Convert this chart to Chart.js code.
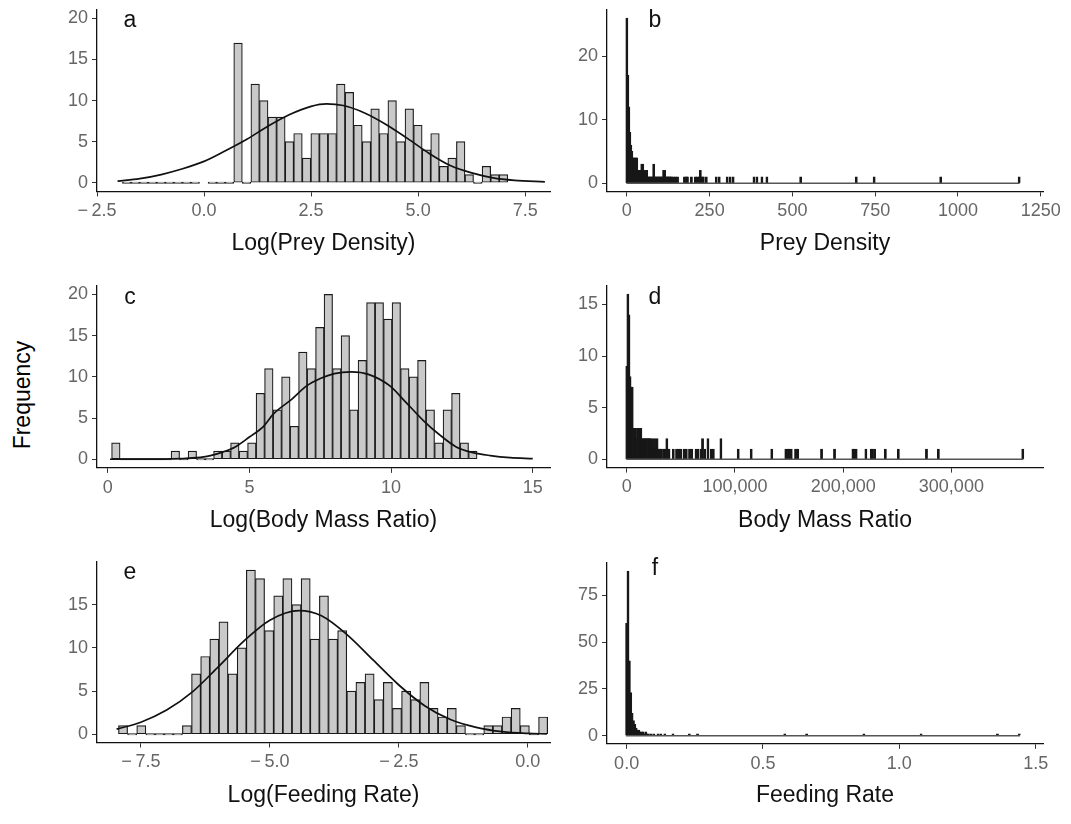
<!DOCTYPE html>
<html><head><meta charset="utf-8">
<script src="https://cdn.jsdelivr.net/npm/chart.js@4/dist/chart.umd.min.js"></script>
<style>
body{margin:0;background:#fff;width:1071px;height:824px;position:relative;overflow:hidden;font-family:"Liberation Sans",Arial,sans-serif}
canvas{position:absolute}
#ylab{position:absolute;left:22px;top:395px;transform:translate(-50%,-50%) rotate(-90deg);font-size:23px;color:#000;white-space:nowrap}
</style></head><body>
<div id="ylab">Frequency</div>
<canvas id="ca"></canvas><canvas id="cb"></canvas>
<canvas id="cc"></canvas><canvas id="cd"></canvas>
<canvas id="ce"></canvas><canvas id="cf"></canvas>
<script>
// ---------- DATA ----------
// a: Log(Prey Density) histogram (bin width 0.2), bins start at aStart
const aStart = -1.906, aWidth = 0.2;
const aCounts = [0,0,0,0,0,0,0,0,0,null,0,0,0,17,0,12,10,8,8,5,6,3,6,6,6,12,11,7,5,9,6,10,5,9,7,4,6,2,3,5,1,0,2,1,1];
const aCurveX = [-2.02,-1.5,-1,-0.5,0,0.5,1,1.5,2,2.5,2.86,3.25,3.75,4.25,4.75,5.25,5.75,6.25,6.75,7.25,7.96];
const aCurveY = [0.2,0.5,1.0,1.7,2.6,3.9,5.3,6.9,8.3,9.3,9.6,9.4,8.5,7.1,5.4,3.6,2.1,1.2,0.6,0.3,0.1];
const aXTicks = [-2.5,0,2.5,5,7.5];
const aYTicks = [0,5,10,15,20];

// b: Prey Density histogram (bin width 3), bin centres
const bWidth = 3;
const bCentres = [0,3,6,9,12,15,18,21,24,27,30,33,36,39,42,45,48,51,54,57,60,63,66,69,72,75,78,81,84,87,90,93,96,99,102,105,108,111,114,117,120,123,126,129,132,135,141,147,153,174,180,183,195,207,213,219,222,228,231,240,270,279,303,312,321,384,393,408,423,525,693,747,948,1185];
const bCounts  = [26,17,12,8,6,5,4,4,4,4,4,2,2,1,2,3,3,2,2,1,2,1,1,1,1,1,1,3,1,1,1,1,1,1,1,1,1,2,2,1,1,1,1,1,1,1,1,1,1,1,1,1,1,1,1,1,2,1,1,1,1,1,1,1,1,1,1,1,1,1,1,1,1,1];
const bXTicks = [0,250,500,750,1000,1250];
const bYTicks = [0,10,20];

// c: Log(Body Mass Ratio) histogram (bin width 0.3)
const cStart = 0.135, cWidth = 0.3;
const cCounts = [2,0,0,0,0,0,0,1,0,1,0,0,1,1,2,1,2,8,11,6,10,4,13,11,16,20,11,15,6,12,19,19,17,19,11,10,12,6,2,6,8,2,1];
const cCurveX = [0.08,2.26,3.5,4.08,4.5,5.0,5.5,5.85,6.5,7.02,7.5,8.0,8.6,9.2,9.96,10.5,11.14,11.7,12.3,12.9,13.5,14.2,15.0];
const cCurveY = [0.0,0.05,0.35,0.9,1.5,2.7,4.0,5.5,7.3,8.9,9.8,10.4,10.6,10.3,8.9,7.0,4.7,3.0,1.5,0.8,0.45,0.2,0.08];
const cXTicks = [0,5,10,15];
const cYTicks = [0,5,10,15,20];

// d: Body Mass Ratio histogram (bin width 1000), bin centres
const dWidth = 1000;
const dCentres = [0,1000,2000,3000,4000,5000,6000,7000,8000,9000,10000,11000,12000,13000,14000,15000,16000,17000,18000,19000,20000,21000,22000,23000,24000,25000,26000,27000,28000,29000,30000,31000,32000,34000,35000,37000,39000,43000,46000,48000,50000,53000,55000,58000,60000,64000,66000,69000,70000,72000,75000,78000,80000,87000,103000,115000,134000,147000,149000,150000,152000,156000,158000,180000,192000,209000,210000,212000,221000,226000,227000,229000,239000,251000,277000,288000,366000];
const dCounts  = [9,16,14,8,7,7,3,3,3,2,3,2,3,3,2,2,2,2,2,2,2,2,2,1,2,1,2,1,2,1,1,1,1,1,1,2,1,1,1,1,1,1,1,1,1,1,1,1,2,1,2,1,1,2,1,1,1,1,1,1,1,1,1,1,1,1,1,1,1,1,1,1,1,1,1,1,1];
const dXTicks = [0,100000,200000,300000];
const dYTicks = [0,5,10,15];

// e: Log(Feeding Rate) histogram (bin width 0.177)
const eStart = -7.934, eWidth = 0.177;
const eCounts = [1,0,1,0,0,0,0,1,7,9,11,13,7,10,19,18,12,16,18,15,18,11,16,11,12,5,6,7,4,6,3,5,4,6,3,2,3,1,0,0,1,1,2,3,1,0,2];
const eCurveX = [-7.97,-7.5,-7,-6.5,-6,-5.5,-5,-4.43,-4,-3.5,-3,-2.5,-2,-1.5,-1,-0.5,0,0.37];
const eCurveY = [0.6,1.4,2.8,4.9,7.8,10.8,13.2,14.3,13.7,11.5,8.6,5.7,3.3,1.7,0.8,0.3,0.1,0.05];
const eXTicks = [-7.5,-5,-2.5,0];
const eYTicks = [0,5,10,15];

// f: Feeding Rate histogram (bin width 0.005), bin centres
const fWidth = 0.005;
const fCentres = [0,0.005,0.01,0.015,0.02,0.025,0.03,0.035,0.04,0.045,0.05,0.055,0.06,0.065,0.07,0.075,0.08,0.09,0.1,0.115,0.125,0.14,0.17,0.23,0.26,0.58,0.66,0.87,1.08,1.36,1.44];
const fCounts  = [60,88,40,23,12,8,6,4,3,3,2,2,2,1,2,1,1,1,1,1,1,1,1,1,1,1,1,1,1,1,1];
const fXTicks = [0,0.5,1,1.5];
const fYTicks = [0,25,50,75];

// ---------- DRAWING ----------
const FONT = '"Liberation Sans", Arial, sans-serif';
const fmt1 = v => (v < 0 ? '\u2212\u2009' : '') + Math.abs(v).toFixed(1);
const fmt0 = v => String(v);
const fmtK = v => v.toLocaleString('en-US');

const letterPlugin = {
  id: 'panelLetter',
  afterDraw(chart, args, o) {
    const {ctx, chartArea} = chart;
    ctx.save();
    ctx.font = '23px ' + FONT;
    ctx.fillStyle = '#111';
    ctx.textAlign = 'center';
    ctx.textBaseline = 'middle';
    ctx.fillText(o.text, chartArea.left + o.dx, chartArea.top + o.dy);
    ctx.restore();
  }
};

function histFromStart(start, width, counts) {
  return counts.map((c, i) => ({x: start + width * (i + 0.5), y: c}));
}
function histFromCentres(centres, counts) {
  return centres.map((x, i) => ({x: x, y: counts[i]}));
}
function curve(xs, ys) { return xs.map((x, i) => ({x: x, y: ys[i]})); }

function barSet(data, dark) {
  const s = {type: 'bar', data: data, backgroundColor: dark ? '#161616' : '#c9c9c9',
    borderColor: '#1a1a1a', borderWidth: dark ? 0.8 : 1.2, borderSkipped: false,
    barPercentage: 1, categoryPercentage: 1, minBarLength: 1.3, order: 2};
  if (dark) s.barThickness = 2.2;
  return s;
}
function lineSet(data, color, w) {
  return {type: 'line', data: data, borderColor: color, borderWidth: w, pointRadius: 0,
    fill: false, cubicInterpolationMode: 'monotone', order: 1};
}

function panel(id, o) {
  const YW = 80, PT = 14, PR = 30;
  const el = document.getElementById(id);
  const W = Math.round((o.R - o.L) + YW + PR);
  const H = Math.round((o.B - o.T) + PT + o.XH);
  el.width = W; el.height = H;
  el.style.width = W + 'px'; el.style.height = H + 'px';
  el.style.left = (o.L - YW) + 'px';
  el.style.top = (o.T - PT) + 'px';
  const tickFont = {family: FONT, size: 18};
  new Chart(el, {
    type: 'bar',
    data: {datasets: o.datasets},
    options: {
      responsive: false, animation: false, events: [],
      layout: {padding: {top: PT, right: PR, left: 0, bottom: 0}},
      plugins: {legend: {display: false}, tooltip: {enabled: false},
        panelLetter: {text: o.letter, dx: o.ldx, dy: o.ldy}},
      scales: {
        x: {type: 'linear', min: o.xmin, max: o.xmax, offset: false,
          afterFit: s => { s.height = o.XH; },
          afterBuildTicks: s => { s.ticks = o.xticks.map(v => ({value: v})); },
          ticks: {callback: o.xfmt, color: '#666', font: tickFont, padding: 4, maxRotation: 0, autoSkip: false},
          grid: {drawOnChartArea: false, drawTicks: true, tickLength: 5, color: '#333', lineWidth: 1, offset: false},
          border: {display: true, color: '#111', width: 1.3},
          title: {display: true, text: o.xTitle, color: '#111', font: {family: FONT, size: 23}, padding: 0}
        },
        y: {type: 'linear', min: o.ymin, max: o.ymax,
          afterFit: s => { s.width = YW; },
          afterBuildTicks: s => { s.ticks = o.yticks.map(v => ({value: v})); },
          ticks: {callback: fmt0, color: '#666', font: tickFont, padding: 4, autoSkip: false},
          grid: {drawOnChartArea: false, drawTicks: true, tickLength: 5, color: '#333', lineWidth: 1},
          border: {display: true, color: '#111', width: 1.3}
        }
      }
    },
    plugins: [letterPlugin]
  });
}

const LL = 97, LR = 550, RL = 606.7, RR = 1043;

panel('ca', {L: LL, R: LR, T: 8.6, B: 191.4, XH: 65.6, xmin: -2.5, xmax: 8.08, ymin: -1.05, ymax: 21.05,
  xticks: aXTicks, yticks: aYTicks, xfmt: fmt1, xTitle: 'Log(Prey Density)', letter: 'a', ldx: 33, ldy: 11,
  datasets: [lineSet(curve(aCurveX, aCurveY), '#111', 1.7), barSet(histFromStart(aStart, aWidth, aCounts), false)]});

panel('cb', {L: RL, R: RR, T: 9, B: 191.5, XH: 65.6, xmin: -60, xmax: 1257, ymin: -1.3, ymax: 27.3,
  xticks: bXTicks, yticks: bYTicks, xfmt: fmt0, xTitle: 'Prey Density', letter: 'b', ldx: 48, ldy: 11,
  datasets: [lineSet([{x: bCentres[0] - bWidth / 2, y: 0}, {x: bCentres[bCentres.length - 1] + bWidth / 2, y: 0}], '#555', 1.5),
             barSet(histFromCentres(bCentres, bCounts), true)]});

panel('cc', {L: LL, R: LR, T: 285, B: 468, XH: 66.1, xmin: -0.38, xmax: 15.61, ymin: -1.05, ymax: 21.05,
  xticks: cXTicks, yticks: cYTicks, xfmt: fmt0, xTitle: 'Log(Body Mass Ratio)', letter: 'c', ldx: 33, ldy: 12,
  datasets: [lineSet(curve(cCurveX, cCurveY), '#111', 1.7), barSet(histFromStart(cStart, cWidth, cCounts), false)]});

panel('cd', {L: RL, R: RR, T: 285, B: 467.7, XH: 66.4, xmin: -18300, xmax: 384700, ymin: -0.8, ymax: 16.8,
  xticks: dXTicks, yticks: dYTicks, xfmt: fmtK, xTitle: 'Body Mass Ratio', letter: 'd', ldx: 48, ldy: 12,
  datasets: [lineSet([{x: dCentres[0] - dWidth / 2, y: 0}, {x: dCentres[dCentres.length - 1] + dWidth / 2, y: 0}], '#555', 1.5),
             barSet(histFromCentres(dCentres, dCounts), true)]});

panel('ce', {L: LL, R: LR, T: 561.4, B: 742.6, XH: 66.5, xmin: -8.35, xmax: 0.43, ymin: -0.95, ymax: 19.95,
  xticks: eXTicks, yticks: eYTicks, xfmt: fmt1, xTitle: 'Log(Feeding Rate)', letter: 'e', ldx: 33, ldy: 11,
  datasets: [lineSet(curve(eCurveX, eCurveY), '#111', 1.7), barSet(histFromStart(eStart, eWidth, eCounts), false)]});

panel('cf', {L: RL, R: RR, T: 561.7, B: 744, XH: 65.1, xmin: -0.072, xmax: 1.527, ymin: -4.4, ymax: 92.4,
  xticks: fXTicks, yticks: fYTicks, xfmt: fmt1, xTitle: 'Feeding Rate', letter: 'f', ldx: 48, ldy: 6,
  datasets: [lineSet([{x: fCentres[0] - fWidth / 2, y: 0}, {x: fCentres[fCentres.length - 1] + fWidth / 2, y: 0}], '#555', 1.5),
             barSet(histFromCentres(fCentres, fCounts), true)]});
</script>
</body></html>
